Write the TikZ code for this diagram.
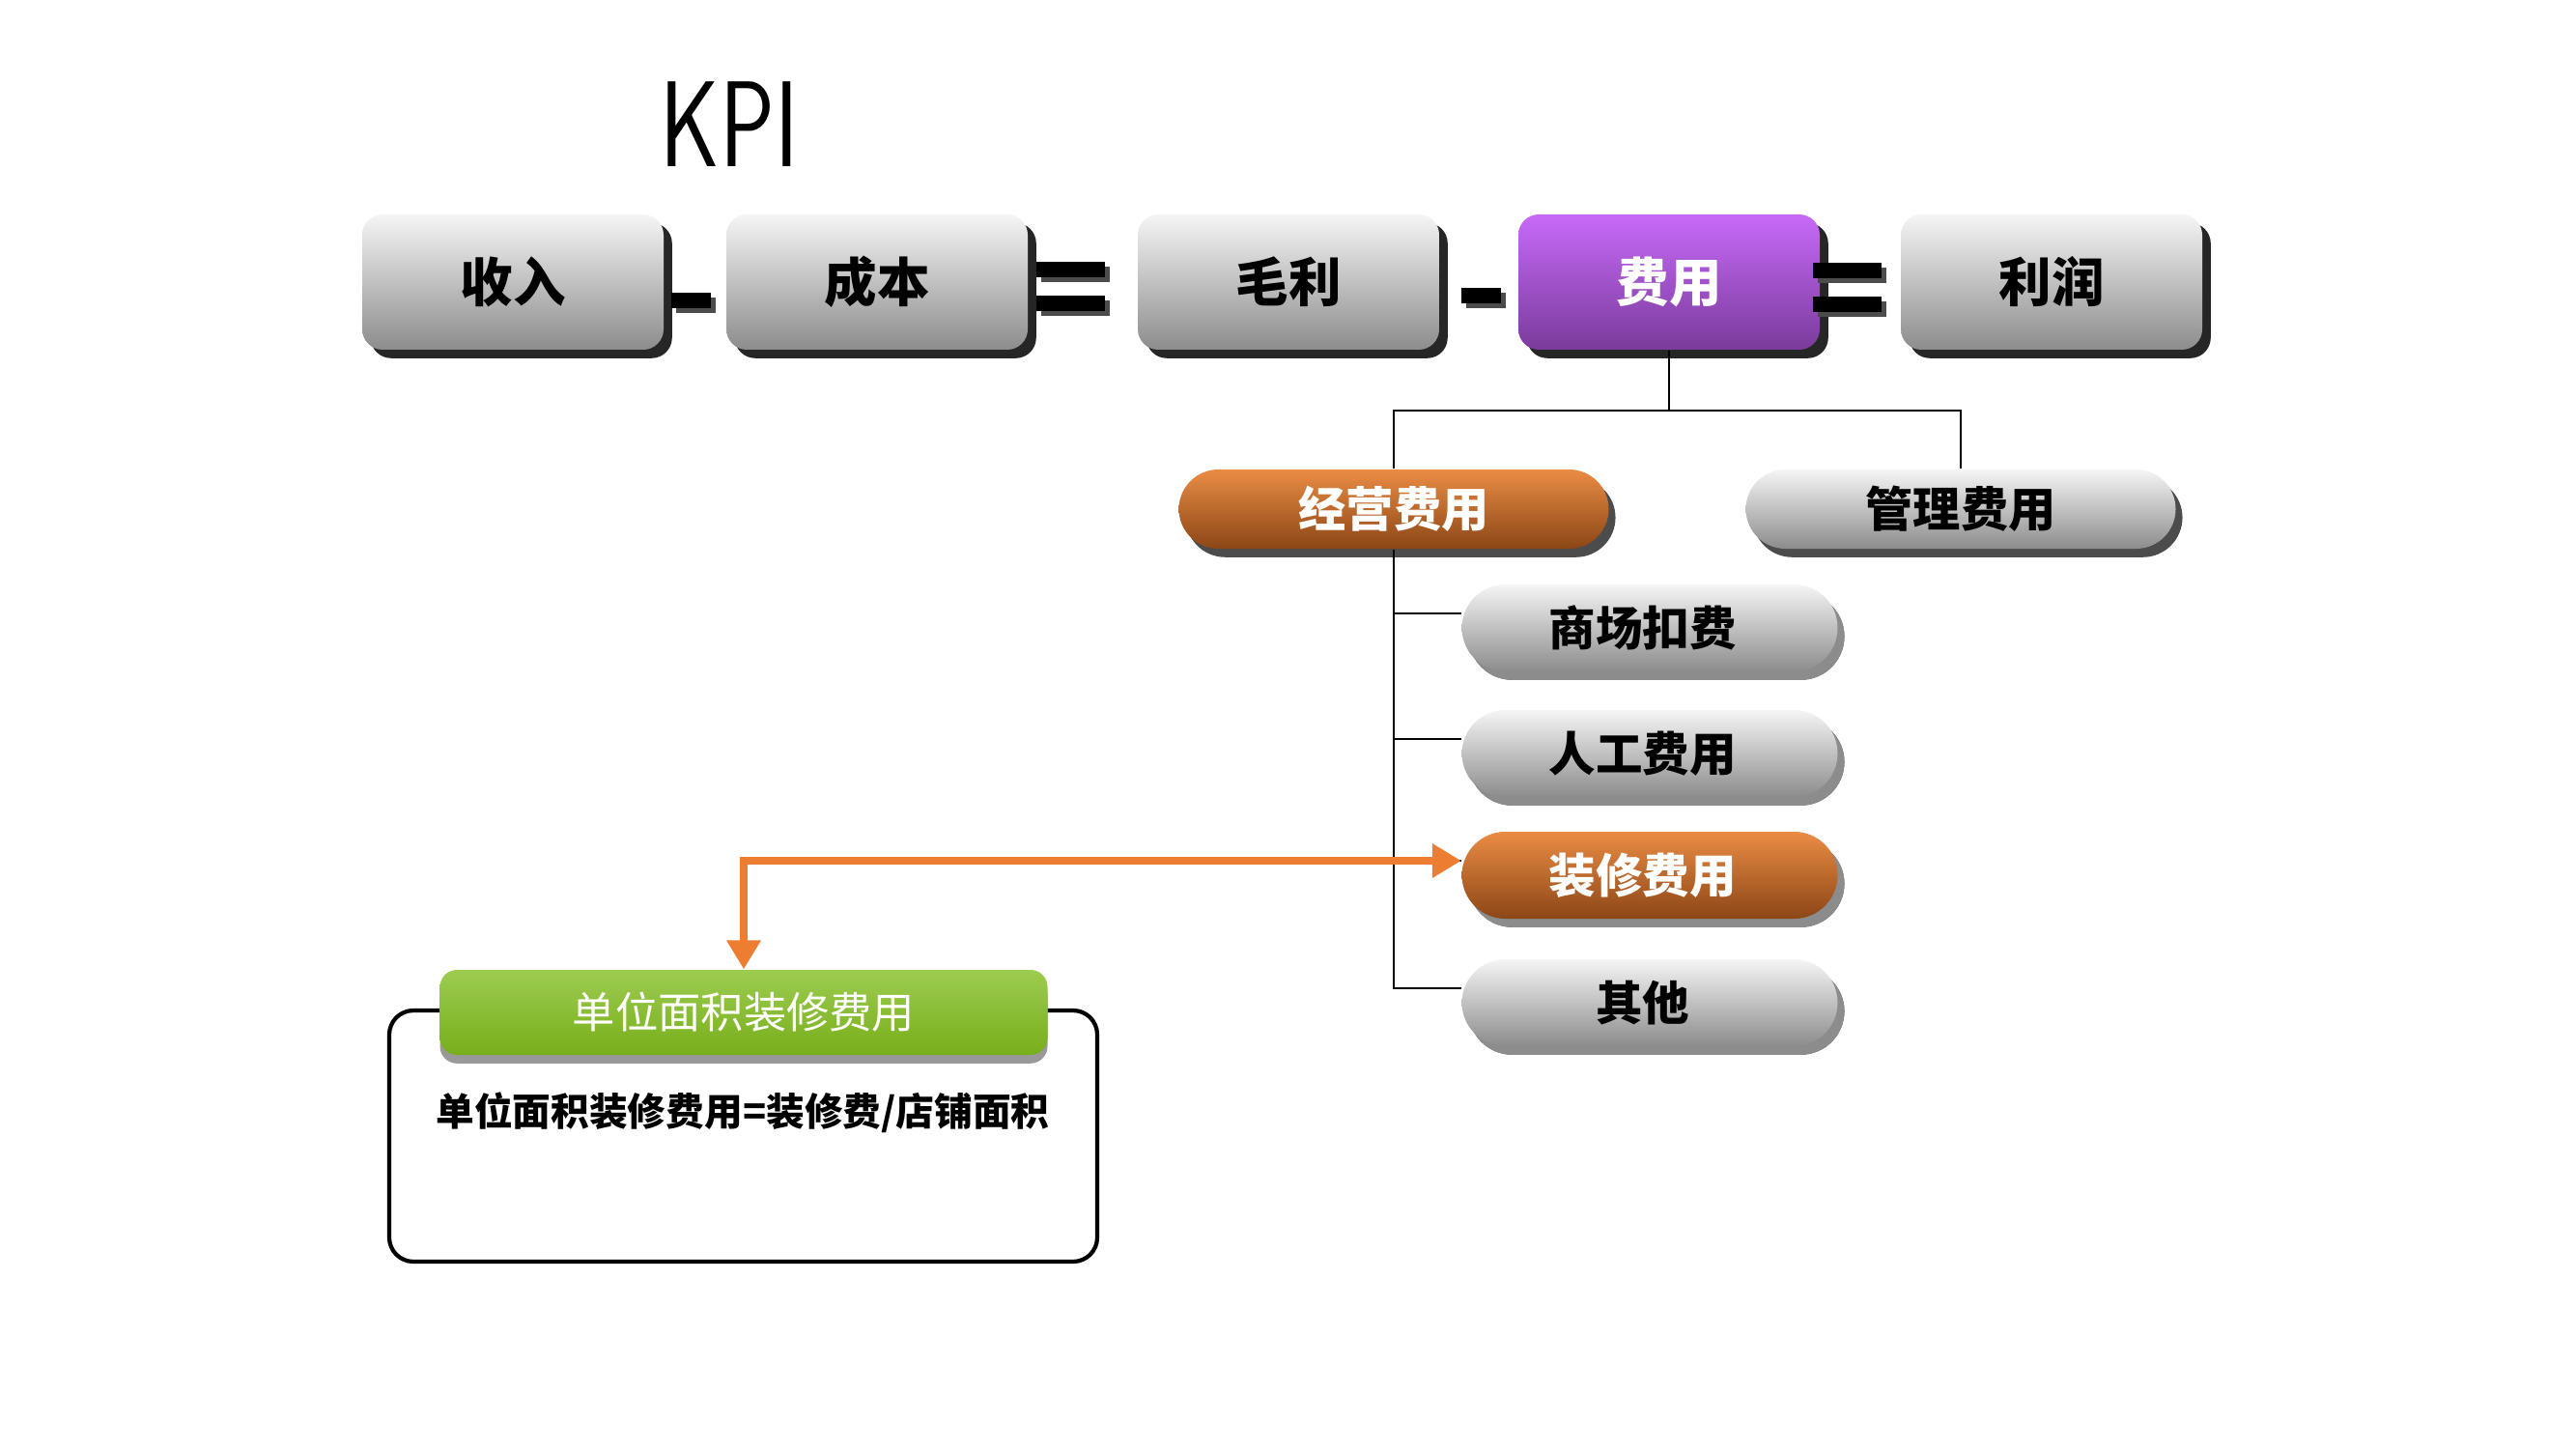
\documentclass[tikz,border=0pt]{standalone}
\usepackage{fontspec}
\newfontfamily\cjk{Noto Sans CJK SC}
\usetikzlibrary{shadows,arrows.meta}
\definecolor{boxtop}{HTML}{F5F5F5}
\definecolor{boxbot}{HTML}{8C8C8C}
\definecolor{purtop}{HTML}{C76AF8}
\definecolor{purbot}{HTML}{7A3B9B}
\definecolor{orgtop}{HTML}{EA8C44}
\definecolor{orgbot}{HTML}{8C4616}
\definecolor{grntop}{HTML}{9CCC50}
\definecolor{grnbot}{HTML}{78AE1B}
\definecolor{arrorange}{HTML}{ED7D31}

\begin{document}
\begin{tikzpicture}[
	kpibox/.style={rounded corners=6pt, minimum width=3.12cm, minimum height=1.4cm, top color=boxtop, bottom color=boxbot, drop shadow={shadow xshift=2.5pt, shadow yshift=-2.5pt, fill=black!85, opacity=1}, font=\cjk\bfseries\fontsize{15.5}{18}\selectfont},
	purbox/.style={kpibox, top color=purtop, bottom color=purbot, text=white},
	pill/.style={rounded corners=0.41cm, minimum width=4.45cm, minimum height=0.82cm, top color=boxtop, bottom color=boxbot, drop shadow={shadow xshift=2pt, shadow yshift=-2.5pt, fill=black!70, opacity=1}, font=\cjk\bfseries\fontsize{14}{16}\selectfont},
	orgpill/.style={pill, top color=orgtop, bottom color=orgbot, text=white},
	subpill/.style={pill, rounded corners=0.45cm, minimum width=3.89cm, minimum height=0.9cm, drop shadow={shadow xshift=2pt, shadow yshift=-2.5pt, fill=black!45, opacity=1}, font=\cjk\bfseries\fontsize{13.8}{16}\selectfont},
	orgsub/.style={subpill, top color=orgtop, bottom color=orgbot, text=white},
	opbar/.style={fill=black, inner sep=0pt, minimum height=0.16cm, drop shadow={shadow xshift=1.5pt, shadow yshift=-1.5pt, fill=black!70, opacity=1}},
	link/.style={line width=0.6pt},
	arrow/.style={arrorange, line width=2pt, {Triangle[length=0.3cm,width=0.34cm]}-{Triangle[length=0.3cm,width=0.34cm]}}
	]
	\useasboundingbox (0,0) rectangle (26.67,15);
	
	\node (kpi) at (7.55,13.71) {\sffamily\fontsize{36}{40}\selectfont\scalebox{0.75}[1]{KPI}};
	
	\node[kpibox] (sr) at (5.31,12.08) {收入};
	\node[kpibox] (cb) at (9.08,12.08) {成本};
	\node[kpibox] (ml) at (13.34,12.08) {毛利};
	\node[purbox] (fy) at (17.28,12.08) {费用};
	\node[kpibox] (lr) at (21.24,12.08) {利润};
	
	\node[opbar, minimum width=0.41cm] (minusa) at (7.15,11.89) {};
	\node[opbar, minimum width=0.71cm] (eqaa) at (11.08,12.21) {};
	\node[opbar, minimum width=0.71cm] (eqab) at (11.08,11.86) {};
	\node[opbar, minimum width=0.41cm] (minusb) at (15.33,11.94) {};
	\node[opbar, minimum width=0.71cm] (eqba) at (19.12,12.20) {};
	\node[opbar, minimum width=0.71cm] (eqbb) at (19.12,11.85) {};
	
	\node[orgpill] (jy) at (14.43,9.73) {经营费用};
	\node[pill] (gl) at (20.30,9.73) {管理费用};
	
	\node[subpill] (sc) at (17.08,8.50) {\hspace*{-0.15cm}商场扣费};
	\node[subpill] (rg) at (17.08,7.20) {\hspace*{-0.15cm}人工费用};
	\node[orgsub] (zx) at (17.08,5.94) {\hspace*{-0.15cm}装修费用};
	\node[subpill] (qt) at (17.08,4.62) {\hspace*{-0.15cm}其他};
	
	\coordinate (fork) at (17.28,10.75);
	\draw[link] (fy.south) -- (fork);
	\draw[link] (fork) -| (jy.north);
	\draw[link] (fork) -| (gl.north);
	\draw[link] (jy.south) |- ([yshift=0.15cm]sc.west);
	\draw[link] (jy.south) |- ([yshift=0.15cm]rg.west);
	\draw[link] (jy.south) |- ([yshift=0.15cm]zx.west);
	\draw[link] (jy.south) |- ([yshift=0.15cm]qt.west);
	
	\draw[line width=1.2pt, rounded corners=0.25cm] (4.03,4.54) rectangle (11.36,1.94);
	\node[rounded corners=5pt, minimum width=6.29cm, minimum height=0.88cm, top color=grntop, bottom color=grnbot, text=white, drop shadow={shadow xshift=0pt, shadow yshift=-2.5pt, fill=black!40, opacity=1}, font=\cjk\fontsize{12.6}{15}\selectfont] (dw) at (7.70,4.52) {单位面积装修费用};
	\node[font=\cjk\bfseries\fontsize{11.3}{14}\selectfont] (gs) at (7.69,3.48) {单位面积装修费用=装修费/店铺面积};
	
	\draw[arrow] ([yshift=0.15cm]zx.west) -| (dw.north);
\end{tikzpicture}
\end{document}
